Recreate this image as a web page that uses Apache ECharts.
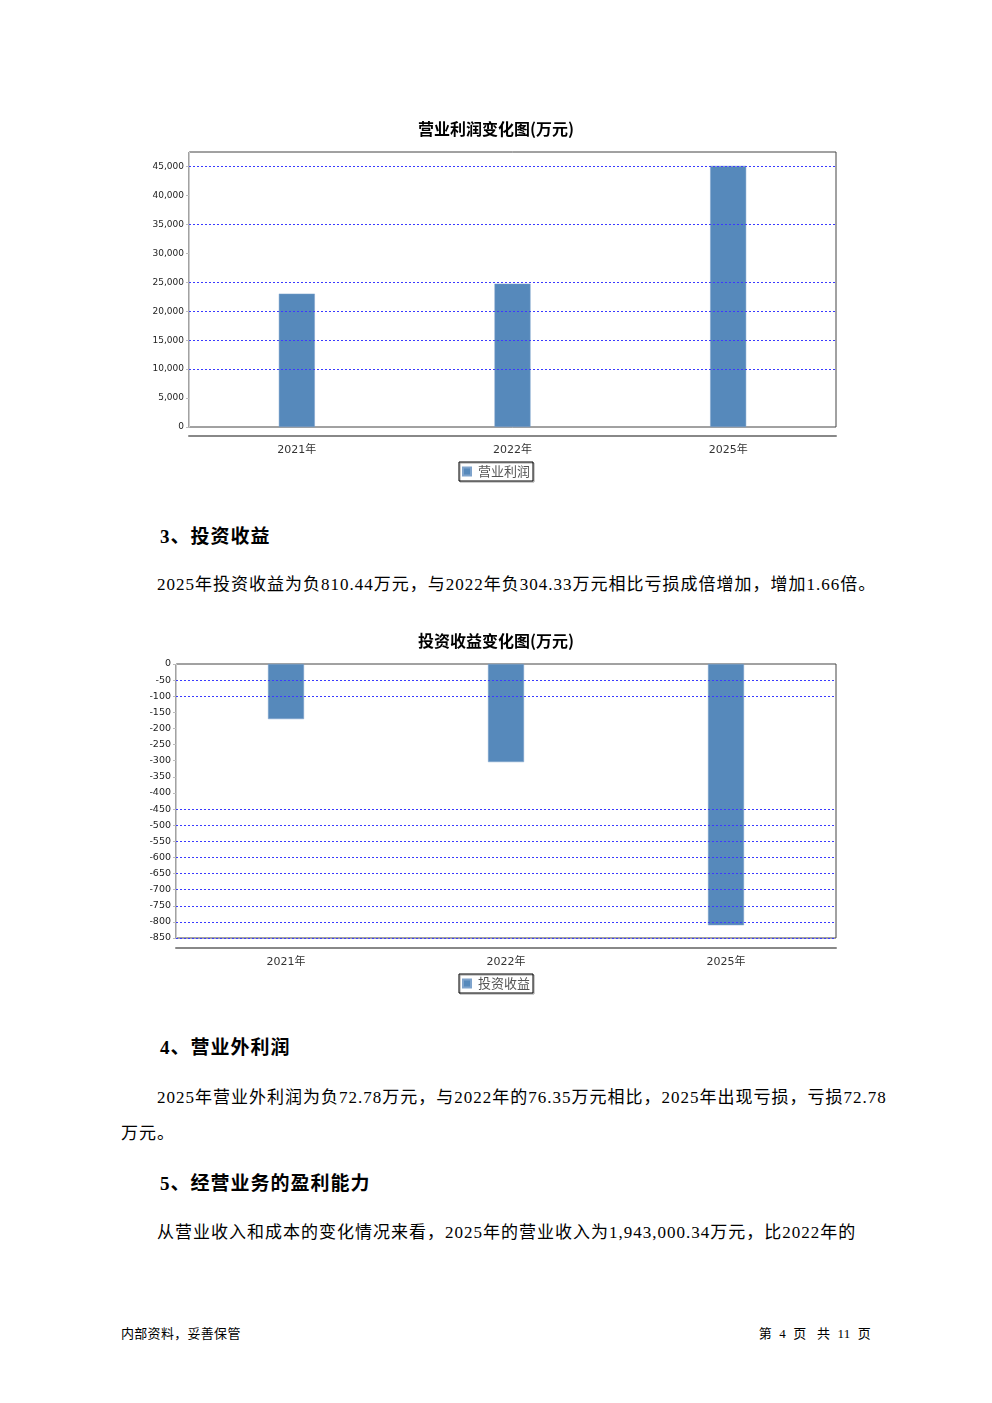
<!DOCTYPE html>
<html>
<head>
<meta charset="utf-8">
<script src="https://cdn.jsdelivr.net/npm/echarts@6/dist/echarts.min.js"></script>
<style>
  html, body { margin: 0; padding: 0; background: #fff; }
  #page { position: relative; width: 992px; height: 1403px; overflow: hidden; background: #fff; }
  .chart { position: absolute; left: 0; width: 992px; }
  .t { position: absolute; white-space: nowrap; color: #000; line-height: 1; }
  .h { font-family: "Liberation Serif", "Noto Sans CJK SC", serif; font-weight: bold; font-size: 19px; letter-spacing: 1px; }
  .p { font-family: "Liberation Serif", "Noto Sans CJK SC", serif; font-size: 17px; letter-spacing: 1px; }
  .f { font-family: "Liberation Serif", "Noto Sans CJK SC", serif; font-size: 13px; letter-spacing: 0.3px; }
</style>
</head>
<body>
<div id="page">
  <div id="c1" class="chart" style="top:100px;height:400px;"></div>
  <div class="t h" style="left:160px;top:527px;">3、投资收益</div>
  <div class="t p" style="left:157px;top:576px;">2025年投资收益为负810.44万元，与2022年负304.33万元相比亏损成倍增加，增加1.66倍。</div>
  <div id="c2" class="chart" style="top:620px;height:390px;"></div>
  <div class="t h" style="left:160px;top:1038px;">4、营业外利润</div>
  <div class="t p" style="left:157px;top:1089px;">2025年营业外利润为负72.78万元，与2022年的76.35万元相比，2025年出现亏损，亏损72.78</div>
  <div class="t p" style="left:121px;top:1125px;">万元。</div>
  <div class="t h" style="left:160px;top:1174px;">5、经营业务的盈利能力</div>
  <div class="t p" style="left:157px;top:1224px;">从营业收入和成本的变化情况来看，2025年的营业收入为1,943,000.34万元，比2022年的</div>
  <div class="t f" style="left:121px;top:1327px;">内部资料，妥善保管</div>
  <div class="t f" style="right:121px;top:1327px;">第&nbsp;&nbsp;4&nbsp;&nbsp;页&nbsp;&nbsp;&nbsp;共&nbsp;&nbsp;11&nbsp;&nbsp;页</div>
</div>
<script>
// ---- data ----
const categories = ['2021年', '2022年', '2025年'];
const profitName = '营业利润';
const profitValues = [23030, 24760, 45100];
const profitGridValues = [45000, 35000, 25000, 20000, 15000, 10000];
const investName = '投资收益';
const investValues = [-171, -304.33, -810.44];
const investGridValues = [-50, -100, -450, -500, -550, -600, -650, -700, -750, -800, -850];

const BAR = '#5689bb';
const FONT = '"DejaVu Sans", "Noto Sans CJK SC", sans-serif';

function gridLineSeries(vals) {
  return {
    type: 'line', data: [], z: 1, silent: true,
    markLine: {
      silent: true, symbol: 'none', animation: false,
      label: { show: false },
      lineStyle: { color: '#3a3aff', type: [2, 2], width: 1 },
      data: vals.map(v => ({ yAxis: v }))
    }
  };
}

function makeOption(o) {
  return {
    animation: false,
    title: {
      text: o.title, left: 'center', top: o.titleTop,
      textStyle: { fontSize: 16, fontWeight: 'bold', color: '#000', fontFamily: '"Noto Sans CJK SC", sans-serif' }
    },
    legend: {
      data: [o.name], left: 'center', top: o.legendTop,
      icon: 'rect', itemWidth: 8, itemHeight: 8, itemGap: 4,
      padding: [3, 3, 3, 3],
      borderColor: '#000', borderWidth: 1,
      shadowColor: '#999', shadowOffsetX: 1, shadowOffsetY: 1, shadowBlur: 0,
      textStyle: { fontSize: 13, color: '#555', fontFamily: '"Noto Sans CJK SC", sans-serif', padding: [0, 0, 0, 2] },
      selectedMode: false
    },
    grid: {
      left: o.gridLeft, right: 156, top: o.gridTop, height: o.gridHeight,
      show: true, borderColor: '#444', borderWidth: 1, backgroundColor: '#fff'
    },
    xAxis: {
      type: 'category', data: categories, offset: o.xOffset,
      axisLine: { onZero: false, lineStyle: { color: '#888', width: 2 } },
      axisTick: { alignWithLabel: true, length: 4, lineStyle: { color: '#888' } },
      axisLabel: { fontSize: 11, color: '#333', fontFamily: FONT, margin: 9 },
      splitLine: { show: false }
    },
    yAxis: {
      type: 'value', min: o.min, max: o.max, interval: o.interval,
      axisLine: { show: true, lineStyle: { color: '#ccc' } },
      axisTick: { show: true, length: 3, lineStyle: { color: '#bbb' } },
      axisLabel: {
        fontSize: o.labelSize, color: '#222', fontFamily: FONT, margin: 5,
        showMaxLabel: o.showMax,
        formatter: v => (v % o.interval === 0 ? v.toLocaleString('en-US') : '')
      },
      splitLine: { show: false }
    },
    series: [
      gridLineSeries(o.gridVals),
      {
        name: o.name, type: 'bar', data: o.values, barWidth: 36, z: 2,
        itemStyle: { color: BAR, borderColor: '#7ea3cc', borderWidth: 0.5 }
      }
    ]
  };
}

const c1 = echarts.init(document.getElementById('c1'), null, { renderer: 'canvas' });
c1.setOption(makeOption({
  title: '营业利润变化图(万元)', titleTop: 16, name: profitName, values: profitValues,
  gridVals: profitGridValues, gridLeft: 189, gridTop: 52, gridHeight: 275,
  xOffset: 9, min: 0, max: 47500, interval: 5000, labelSize: 9, showMax: false,
  legendTop: 362
}));

const c2 = echarts.init(document.getElementById('c2'), null, { renderer: 'canvas' });
c2.setOption(makeOption({
  title: '投资收益变化图(万元)', titleTop: 8, name: investName, values: investValues,
  gridVals: investGridValues, gridLeft: 176, gridTop: 44, gridHeight: 274,
  xOffset: 10, min: -850, max: 0, interval: 50, labelSize: 9.5, showMax: true,
  legendTop: 354
}));
</script>
</body>
</html>
